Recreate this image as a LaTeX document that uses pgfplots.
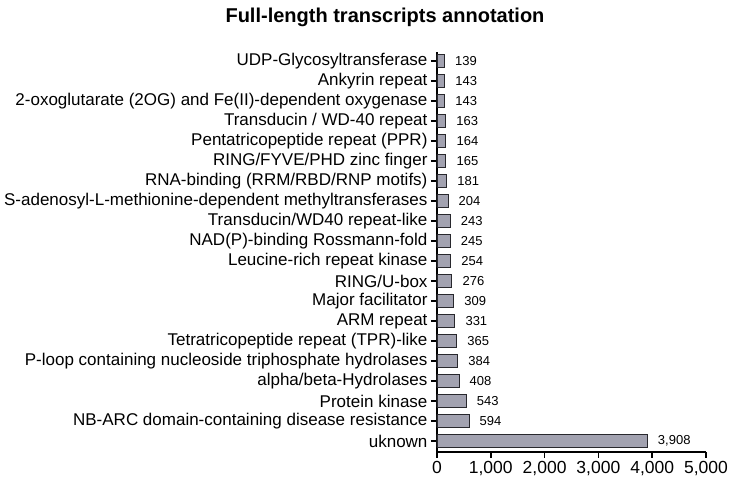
\documentclass[border=0pt]{standalone}
\usepackage{fontspec}
\setmainfont{Liberation Sans}
\usepackage{pgfplots}
\pgfplotsset{compat=1.18}
\definecolor{barfill}{RGB}{162,162,176}
\definecolor{barline}{RGB}{40,40,45}

\begin{document}
\begin{tikzpicture}
\useasboundingbox (-437pt,-35pt) rectangle (297pt,452pt);
\begin{axis}[
  scale only axis,
  width=269pt, height=400pt,
  xbar,
  bar width=13pt,
  xmin=0, xmax=5000,
  ymin=-0.55, ymax=19.45,
  axis lines*=left,
  axis line style={line width=1.6pt},
  tick align=outside,
  major tick length=6pt,
  tick style={line width=1.6pt, black},
  xtick={0,1000,2000,3000,4000,5000},
  scaled x ticks=false,
  /pgf/number format/assume math mode=true,
  /pgf/number format/1000 sep={,},
  xticklabel style={font=\fontsize{17.5}{20}\selectfont},
  ytick={0,...,19},
  yticklabels={uknown,
    NB-ARC domain-containing disease resistance,
    Protein kinase,
    alpha/beta-Hydrolases,
    P-loop containing nucleoside triphosphate hydrolases,
    Tetratricopeptide repeat (TPR)-like,
    ARM repeat,
    Major facilitator,
    RING/U-box,
    Leucine-rich repeat kinase,
    NAD(P)-binding Rossmann-fold,
    Transducin/WD40 repeat-like,
    S-adenosyl-L-methionine-dependent methyltransferases,
    RNA-binding (RRM/RBD/RNP motifs),
    RING/FYVE/PHD zinc finger,
    Pentatricopeptide repeat (PPR),
    Transducin / WD-40 repeat,
    2-oxoglutarate (2OG) and Fe(II)-dependent oxygenase,
    Ankyrin repeat,
    UDP-Glycosyltransferase},
  yticklabel style={font=\fontsize{17}{19}\selectfont},
  nodes near coords,
  nodes near coords style={font=\fontsize{13}{15}\selectfont, anchor=west, xshift=7pt},
  clip=false,
]
\addplot[fill=barfill, draw=barline, line width=0.8pt] coordinates {
  (3908,0) (594,1) (543,2) (408,3) (384,4) (365,5) (331,6) (309,7)
  (276,8) (254,9) (245,10) (243,11) (204,12) (181,13) (165,14)
  (164,15) (163,16) (143,17) (143,18) (139,19)
};
\end{axis}
\node[font=\bfseries\fontsize{20}{24}\selectfont] at (-52pt,435pt) {Full-length transcripts annotation};
\end{tikzpicture}
\end{document}
